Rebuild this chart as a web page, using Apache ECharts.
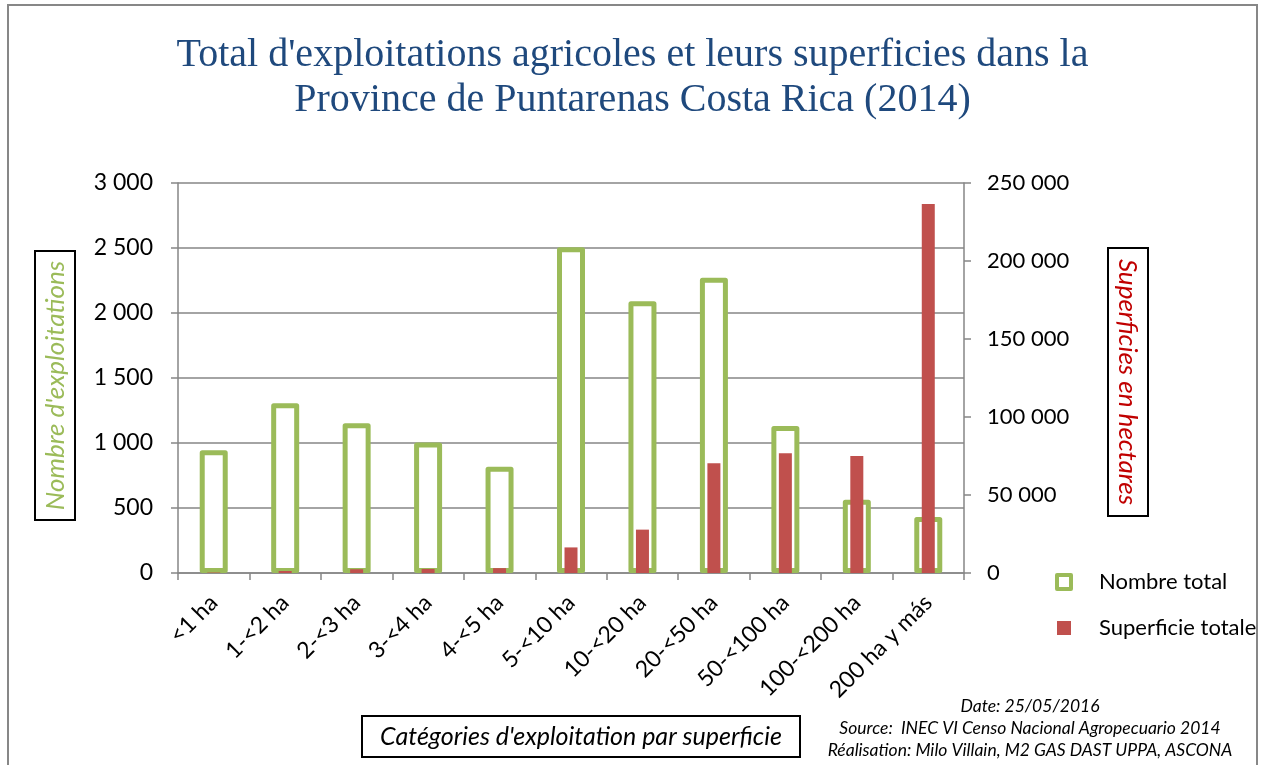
<!DOCTYPE html>
<html>
<head>
<meta charset="utf-8">
<script src="https://cdn.jsdelivr.net/npm/echarts@6/dist/echarts.min.js"></script>
<style>
  html, body { margin: 0; padding: 0; background: #fff; }
  #chart { width: 1265px; height: 765px; }
</style>
</head>
<body>
<div id="chart"></div>
<script>
// categories d'exploitation
var categories = ['<1 ha', '1-<2 ha', '2-<3 ha', '3-<4 ha', '4-<5 ha', '5-<10 ha',
  '10-<20 ha', '20-<50 ha', '50-<100 ha', '100-<200 ha', '200 ha y más'];
// nombre total d'exploitations (axe gauche)
var nombreTotal = [945, 1305, 1152, 1003, 818, 2505, 2090, 2272, 1131, 564, 431];
// superficie totale en hectares (axe droit)
var superficieTotale = [300, 1300, 2400, 2600, 3100, 16400, 27800, 70300, 76700, 75000, 236500];

var leftTicks = { min: 0, max: 3000, interval: 500 };
var rightTicks = { min: 0, max: 250000, interval: 50000 };

function fmt(v) {
  return String(v).replace(/\B(?=(\d{3})+(?!\d))/g, ' ');
}

var axisGray = '#868686';
var font = 'Lato';

var myChart = echarts.init(document.getElementById('chart'));

var option = {
  backgroundColor: '#fff',
  animation: false,
  title: {
    text: "Total d'exploitations agricoles et leurs superficies dans la\nProvince de Puntarenas Costa Rica (2014)",
    left: 'center',
    top: 28,
    textStyle: {
      fontFamily: 'Liberation Serif',
      fontSize: 40,
      fontWeight: 'normal',
      color: '#1F497D',
      lineHeight: 45
    }
  },
  grid: { left: 178, right: 301, top: 183, bottom: 192 },
  legend: {
    orient: 'vertical',
    left: 1050,
    top: 566,
    itemWidth: 14,
    itemHeight: 14,
    itemGap: 24,
    textStyle: { fontFamily: font, fontSize: 22, color: '#000', padding: [0, 0, 0, 23] },
    data: [
      { name: 'Nombre total', icon: 'rect', itemStyle: { color: '#fff', borderColor: '#9BBB59', borderWidth: 4 } },
      { name: 'Superficie totale', icon: 'rect', itemStyle: { color: '#C0504D', borderWidth: 0 } }
    ]
  },
  xAxis: [
    {
      type: 'category',
      data: categories,
      axisLine: { lineStyle: { color: axisGray, width: 1.5 } },
      axisTick: { show: true, length: 7, lineStyle: { color: axisGray, width: 1.5 } },
      axisLabel: {
        interval: 0,
        rotate: 45,
        margin: 26,
        fontFamily: font,
        fontSize: 23,
        color: '#000'
      }
    },
    {
      type: 'category',
      data: categories,
      show: false
    }
  ],
  yAxis: [
    {
      type: 'value',
      min: leftTicks.min,
      max: leftTicks.max,
      interval: leftTicks.interval,
      axisLine: { show: true, lineStyle: { color: axisGray, width: 1.5 } },
      axisTick: { show: true, length: 7, lineStyle: { color: axisGray, width: 1.5 } },
      splitLine: { show: true, lineStyle: { color: axisGray, width: 1.5 } },
      axisLabel: {
        margin: 25,
        fontFamily: font,
        fontSize: 23,
        color: '#000',
        formatter: fmt
      }
    },
    {
      type: 'value',
      position: 'right',
      min: rightTicks.min,
      max: rightTicks.max,
      interval: rightTicks.interval,
      axisLine: { show: true, lineStyle: { color: axisGray, width: 1.5 } },
      axisTick: { show: true, inside: false, length: 7, lineStyle: { color: axisGray, width: 1.5 } },
      splitLine: { show: false },
      axisLabel: {
        margin: 23,
        fontFamily: font,
        fontSize: 22,
        color: '#000',
        formatter: fmt
      }
    }
  ],
  series: [
    {
      name: 'Nombre total',
      type: 'bar',
      xAxisIndex: 0,
      yAxisIndex: 0,
      barWidth: 28,
      data: nombreTotal,
      itemStyle: {
        color: '#fff',
        borderColor: '#9BBB59',
        borderWidth: 5,
        borderJoin: 'round'
      }
    },
    {
      name: 'Superficie totale',
      type: 'bar',
      xAxisIndex: 1,
      yAxisIndex: 1,
      barWidth: 13,
      data: superficieTotale,
      itemStyle: { color: '#C0504D' }
    }
  ],
  graphic: [
    // cadre extérieur
    {
      type: 'rect',
      shape: { x: 8, y: 5, width: 1249, height: 800 },
      style: { fill: 'none', stroke: '#878787', lineWidth: 2 },
      silent: true
    },
    // titre axe gauche
    {
      type: 'rect',
      shape: { x: 35, y: 251, width: 40, height: 269 },
      style: { fill: '#fff', stroke: '#000', lineWidth: 2 }
    },
    {
      type: 'text',
      x: 56, y: 385.5,
      rotation: Math.PI / 2,
      style: {
        text: "Nombre d'exploitations",
        fontFamily: font, fontSize: 26, fontStyle: 'italic',
        fill: '#9BBB59', align: 'center', verticalAlign: 'middle'
      }
    },
    // titre axe droit
    {
      type: 'rect',
      shape: { x: 1108, y: 248, width: 40, height: 268 },
      style: { fill: '#fff', stroke: '#000', lineWidth: 2 }
    },
    {
      type: 'text',
      x: 1127, y: 382,
      rotation: -Math.PI / 2,
      style: {
        text: 'Superficies en hectares',
        fontFamily: font, fontSize: 26, fontStyle: 'italic',
        fill: '#C00000', align: 'center', verticalAlign: 'middle'
      }
    },
    // titre axe horizontal
    {
      type: 'rect',
      shape: { x: 362, y: 716, width: 438, height: 41 },
      style: { fill: '#fff', stroke: '#000', lineWidth: 2 }
    },
    {
      type: 'text',
      x: 581, y: 737,
      style: {
        text: "Catégories d'exploitation par superficie",
        fontFamily: font, fontSize: 25, fontStyle: 'italic',
        fill: '#000', align: 'center', verticalAlign: 'middle'
      }
    },
    // sources
    {
      type: 'text',
      x: 1030, y: 706,
      style: {
        text: 'Date: 25/05/2016',
        fontFamily: font, fontSize: 17.5, fontStyle: 'italic',
        fill: '#000', align: 'center', verticalAlign: 'middle'
      }
    },
    {
      type: 'text',
      x: 1030, y: 728,
      style: {
        text: 'Source:  INEC VI Censo Nacional Agropecuario 2014',
        fontFamily: font, fontSize: 17.5, fontStyle: 'italic',
        fill: '#000', align: 'center', verticalAlign: 'middle'
      }
    },
    {
      type: 'text',
      x: 1030, y: 750,
      style: {
        text: 'Réalisation: Milo Villain, M2 GAS DAST UPPA, ASCONA',
        fontFamily: font, fontSize: 17.5, fontStyle: 'italic',
        fill: '#000', align: 'center', verticalAlign: 'middle'
      }
    }
  ]
};

myChart.setOption(option);
</script>
</body>
</html>
